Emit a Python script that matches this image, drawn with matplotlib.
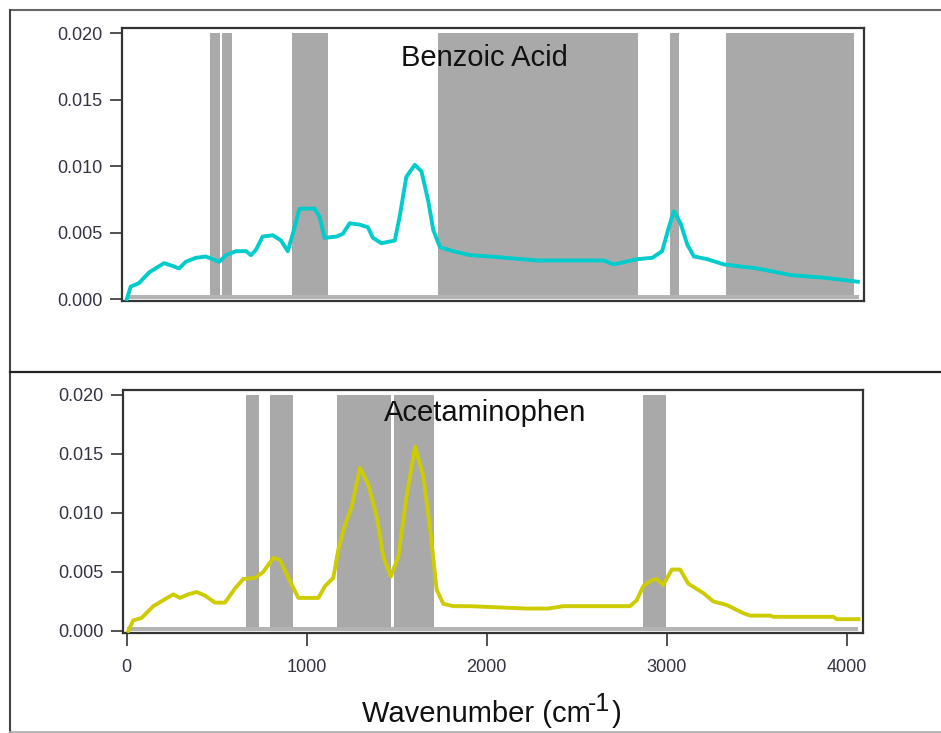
import matplotlib
matplotlib.use("Agg")
import matplotlib.pyplot as plt
from matplotlib.lines import Line2D

plt.rcParams['font.family'] = ['Liberation Sans', 'DejaVu Sans']

# ---- data ----
benzoic_wn = [7, 28, 74, 130, 213, 258, 296, 333, 389, 444, 518, 556, 611, 667, 694, 722,
              759, 815, 861, 898, 926, 963, 1046, 1074, 1102, 1167, 1203, 1241, 1296, 1342,
              1370, 1417, 1491, 1518, 1555, 1602, 1639, 1676, 1704, 1741, 1815, 1907, 2018,
              2278, 2648, 2703, 2833, 2917, 2972, 3009, 3037, 3074, 3111, 3148, 3222, 3315,
              3500, 3685, 3870, 4056]
benzoic_abs = [0.0, 0.00093, 0.0012, 0.0020, 0.0027, 0.0025, 0.0023, 0.0028, 0.0031, 0.0032,
               0.0028, 0.0033, 0.0036, 0.0036, 0.0033, 0.0037, 0.0047, 0.0048, 0.0044, 0.0036,
               0.0049, 0.0068, 0.0068, 0.0062, 0.0046, 0.0047, 0.0049, 0.0057, 0.0056, 0.0054,
               0.0046, 0.0042, 0.0044, 0.0062, 0.0092, 0.0101, 0.0096, 0.0074, 0.0052, 0.0039,
               0.0036, 0.0033, 0.0032, 0.0029, 0.0029, 0.0026, 0.0030, 0.0031, 0.0036, 0.0054,
               0.0066, 0.0057, 0.0041, 0.0032, 0.0030, 0.0026, 0.0023, 0.0018, 0.0016, 0.0013]

acet_wn = [9, 37, 83, 148, 203, 259, 296, 342, 389, 435, 491, 546, 602, 648, 713, 759, 815,
           852, 898, 954, 1009, 1065, 1102, 1148, 1176, 1213, 1250, 1296, 1342, 1389, 1426,
           1467, 1509, 1555, 1602, 1648, 1685, 1722, 1759, 1815, 1907, 2222, 2342, 2426, 2796,
           2833, 2870, 2917, 2944, 2981, 3028, 3074, 3120, 3204, 3259, 3333, 3426, 3463, 3574,
           3592, 3926, 3944, 4065]
acet_abs = [0.0, 0.0009, 0.0011, 0.0021, 0.0026, 0.0031, 0.0028, 0.0031, 0.0033, 0.0030,
            0.0024, 0.0024, 0.0036, 0.0044, 0.0045, 0.0050, 0.0062, 0.0060, 0.0045, 0.0028,
            0.0028, 0.0028, 0.0038, 0.0045, 0.0069, 0.0090, 0.0105, 0.0138, 0.0124, 0.0097,
            0.0063, 0.0046, 0.0063, 0.0114, 0.0156, 0.0131, 0.0088, 0.0035, 0.0023, 0.0021,
            0.0021, 0.0019, 0.0019, 0.0021, 0.0021, 0.0026, 0.0038, 0.0043, 0.0044, 0.0039,
            0.0052, 0.0052, 0.0040, 0.0032, 0.0025, 0.0022, 0.0015, 0.0013, 0.0013, 0.0012,
            0.0012, 0.0010, 0.0010]

benzoic_bands = [(468, 524), (536, 591), (924, 1119), (1729, 2840), (3013, 3068), (3324, 4035)]
acet_bands = [(661, 735), (796, 926), (1167, 1467), (1487, 1709), (2870, 2994)]

yticks = [0.000, 0.005, 0.010, 0.015, 0.020]
ytick_labels = ["0.000", "0.005", "0.010", "0.015", "0.020"]
xticks = [0, 1000, 2000, 3000, 4000]
xtick_labels = ["0", "1000", "2000", "3000", "4000"]

W, H = 941, 733
fig = plt.figure(figsize=(W / 100, H / 100), dpi=100)

def axrect(l, t, r, b):
    return [l / W, 1 - b / H, (r - l) / W, (b - t) / H]

ax1 = fig.add_axes(axrect(122, 28, 864, 301))
ax2 = fig.add_axes(axrect(123, 390, 863, 633))

tick_color = '#333344'
panels = [
    (ax1, benzoic_wn, benzoic_abs, benzoic_bands, '#00CCCC', 'Benzoic Acid', (-20, 4090), (-0.00015, 0.0204), 0.01812),
    (ax2, acet_wn, acet_abs, acet_bands, '#CCCC00', 'Acetaminophen', (-20, 4090), (-0.00017, 0.0204), 0.01845),
]
for ax, xw, ya, bands, col, title, xl, yl, ty in panels:
    ax.set_xlim(*xl)
    ax.set_ylim(*yl)
    ax.fill_between([0, 4060], 0, 0.0003, color='#b4b4b4', lw=0, zorder=1)
    for a, b in bands:
        ax.fill_between([a, b], 0.0003, 0.020, color='#a9a9a9', lw=0, zorder=1)
    ax.plot(xw, ya, color=col, lw=2.8, zorder=3, solid_joinstyle='round')
    ax.text(1990, ty, title, ha='center', va='center', fontsize=21, color='#111111', zorder=4)
    ax.set_yticks(yticks)
    ax.set_yticklabels(ytick_labels)
    ax.tick_params(axis='y', direction='out', length=9, width=1.2, colors='#333333',
                   labelsize=13, labelcolor=tick_color, pad=5)
    for s in ax.spines.values():
        s.set_color('#333333')
        s.set_linewidth(1.6)

ax1.set_xticks([])
ax2.set_xticks(xticks)
ax2.set_xticklabels(xtick_labels)
ax2.tick_params(axis='x', direction='out', length=9.5, width=1.2, colors='#333333',
                labelsize=13, labelcolor=tick_color, pad=9)

# x-axis label built from pieces so the superscript uses a plain hyphen
fig.text(362 / W, 1 - 722 / H, 'Wavenumber (cm', ha='left', va='baseline',
         fontsize=21, color='#111111')
fig.text(588 / W, 1 - 711 / H, '-1', ha='left', va='baseline',
         fontsize=18, color='#111111')
fig.text(612 / W, 1 - 722 / H, ')', ha='left', va='baseline',
         fontsize=21, color='#111111')

# outer frames
def fline(x0, y0, x1, y1, **kw):
    fig.add_artist(Line2D([x0 / W, x1 / W], [1 - y0 / H, 1 - y1 / H], **kw))

fline(10, 10, 945, 10, color='#666666', lw=1.5)
fline(10, 10, 10, 732, color='#444444', lw=1.5)
fline(10, 371.5, 945, 371.5, color='#222222', lw=1.6)
fline(10, 732, 945, 732, color='#aaaaaa', lw=1.2)

fig.savefig('out.png', dpi=100)
